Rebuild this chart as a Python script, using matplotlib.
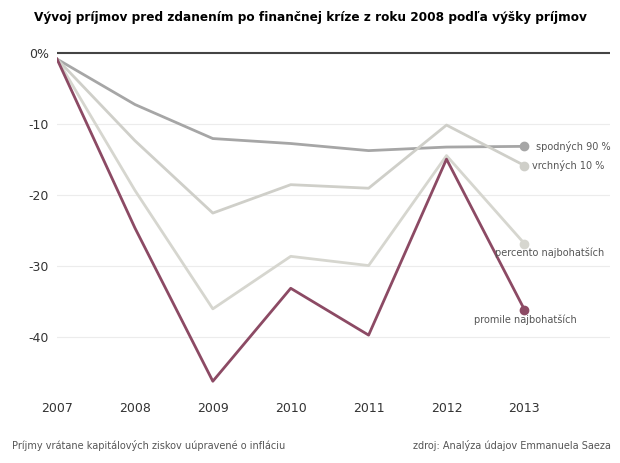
import matplotlib.pyplot as plt

years = [2007, 2008, 2009, 2010, 2011, 2012, 2013]
spodnych_90 = [-0.8, -7.2, -12.0, -12.7, -13.7, -13.2, -13.1]
vrchnych_10 = [-0.8, -12.3, -22.5, -18.5, -19.0, -10.1, -15.8]
percento = [-0.8, -19.3, -36.0, -28.6, -29.9, -14.4, -26.8]
promile = [-0.8, -24.6, -46.2, -33.1, -39.7, -14.9, -36.1]

series = [
    (spodnych_90, "#a6a6a6", "spodných 90 %", (0.15, 0)),
    (vrchnych_10, "#cfcfc9", "vrchných 10 %", (0.1, 0)),
    (percento, "#d6d6cf", "percento najbohatších", (-0.38, -1.3)),
    (promile, "#8c4a64", "promile najbohatších", (-0.65, -1.4)),
]

fig = plt.figure(figsize=(6.2, 4.63), dpi=100)
ax = fig.add_axes([0.092, 0.149, 0.892, 0.751])

for v in [-10, -20, -30, -40]:
    ax.axhline(v, color="#ececec", lw=0.8, zorder=0)
ax.axhline(0, color="#444444", lw=1.5, zorder=1)

for vals, col, lab, off in series:
    ax.plot(years, vals, color=col, lw=2, zorder=2)
    ax.plot(years[-1], vals[-1], "o", color=col, ms=6, zorder=3)
    ax.text(years[-1] + off[0], vals[-1] + off[1], lab, fontsize=7,
            color="#555555", va="center", ha="left")

ax.set_xlim(2007, 2014.1)
ax.set_ylim(-48, 1)
ax.set_xticks(years)
ax.set_xticklabels([str(y) for y in years], fontsize=9, color="#333333")
ax.set_yticks([0, -10, -20, -30, -40])
ax.set_yticklabels(["0%", "-10", "-20", "-30", "-40"], fontsize=9, color="#333333")
ax.tick_params(length=0, pad=6)
for s in ax.spines.values():
    s.set_visible(False)

fig.text(0.5, 0.955, "Vývoj príjmov pred zdanením po finančnej kríze z roku 2008 podľa výšky príjmov",
         ha="center", fontsize=8.7, fontweight="bold")
fig.text(0.02, 0.03, "Príjmy vrátane kapitálových ziskov uúpravené o infláciu", fontsize=7, color="#555555")
fig.text(0.985, 0.03, "zdroj: Analýza údajov Emmanuela Saeza", fontsize=7, color="#555555", ha="right")

fig.savefig("out.png", dpi=100)
